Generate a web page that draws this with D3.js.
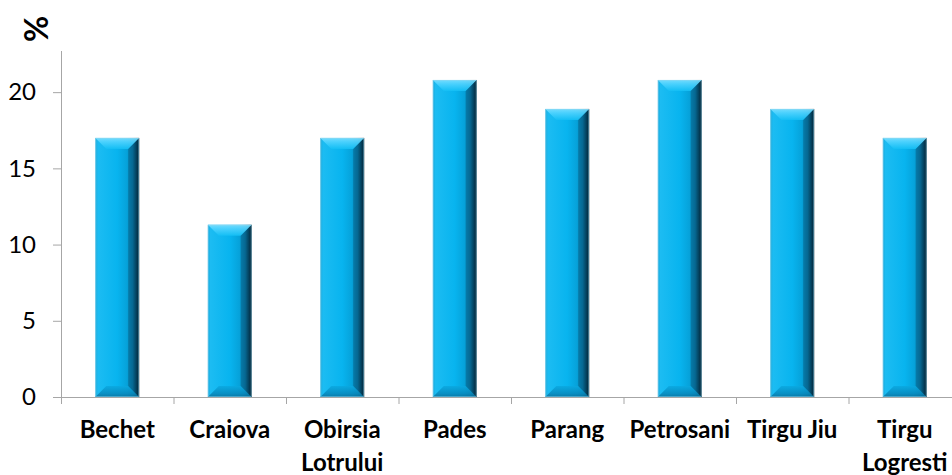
<!DOCTYPE html>
<html><head><meta charset="utf-8">
<script src="https://cdn.jsdelivr.net/npm/d3@7"></script>
<style>html,body{margin:0;padding:0;background:#fff;overflow:hidden}</style>
</head><body>
<svg id="c" width="952" height="475"></svg>
<script>
const categories = [["Bechet"],["Craiova"],["Obirsia","Lotrului"],["Pades"],["Parang"],["Petrosani"],["Tirgu Jiu"],["Tirgu","Logresti"]];
const values = [17.0, 11.3, 17.0, 20.8, 18.9, 20.8, 18.9, 17.0];
const yTicks = [0, 5, 10, 15, 20];
const yLabel = "%";

const svg = d3.select("#c");
const font = "Lato, 'Open Sans', sans-serif";
const x0 = 61, x1 = 961, yBase = 397, yTop = 51;
const keys = categories.map((c,i)=>i);
const x = d3.scaleBand().domain(keys).range([x0, x1]).paddingInner(0.61).paddingOuter(0.305);
const y = d3.scaleLinear().domain([0, 22.7]).range([yBase, yTop]);

const defs = svg.append("defs");
const gH = defs.append("linearGradient").attr("id","gh").attr("x1","0").attr("x2","1").attr("y1","0").attr("y2","0");
[[0,"#1aa6d8"],[0.06,"#1cbcf2"],[0.5,"#08b4ef"],[0.72,"#06a2da"],[0.85,"#067fb0"],[0.94,"#04435f"],[1,"#021a26"]].forEach(s=>gH.append("stop").attr("offset",s[0]).attr("stop-color",s[1]));
const gT = defs.append("linearGradient").attr("id","gt").attr("x1","0").attr("x2","0").attr("y1","0").attr("y2","1");
[[0,"#7fe0ff"],[0.35,"#52d4ff"],[1,"#14bff5"]].forEach(s=>gT.append("stop").attr("offset",s[0]).attr("stop-color",s[1]));
const gB = defs.append("linearGradient").attr("id","gb").attr("x1","0").attr("x2","0").attr("y1","0").attr("y2","1");
[[0,"#0aa8e0"],[0.7,"#0888bb"],[1,"#0a6f9a"]].forEach(s=>gB.append("stop").attr("offset",s[0]).attr("stop-color",s[1]));

const bv = 11;
const bars = svg.append("g").selectAll("g").data(values).join("g");
bars.each(function(v,i){
  const g = d3.select(this);
  const bx = x(i), bw = x.bandwidth(), by = y(v), bb = y(0);
  g.append("rect").attr("x",bx).attr("y",by).attr("width",bw).attr("height",bb-by).attr("fill","url(#gh)");
  g.append("path").attr("d",`M${bx},${by}L${bx+bw},${by}L${bx+bw-bv},${by+bv}L${bx+bv},${by+bv}Z`).attr("fill","url(#gt)").attr("opacity",0.9);
  g.append("path").attr("d",`M${bx},${bb}L${bx+bw},${bb}L${bx+bw-bv},${bb-bv}L${bx+bv},${bb-bv}Z`).attr("fill","url(#gb)").attr("opacity",0.85);
  g.append("path").attr("d",`M${bx+bw},${by}L${bx+bw},${bb}L${bx+bw-bv},${bb-bv}L${bx+bw-bv},${by+bv}Z`).attr("fill","#05364e").attr("opacity",0.3);
  g.append("rect").attr("x",bx+0.5).attr("y",by+0.5).attr("width",bw-1).attr("height",bb-by-1).attr("fill","none").attr("stroke","#8fd6ee").attr("stroke-width",0.8).attr("opacity",0.6);
});

const axColor = "#a6a6a6";
// y axis
const ya = svg.append("g").attr("transform",`translate(${x0},0)`)
  .call(d3.axisLeft(y).tickValues(yTicks).tickSize(8).tickPadding(17).tickFormat(d3.format("d")));
ya.select(".domain").attr("stroke",axColor).attr("d",`M0.5,${yTop}V${yBase}`);
ya.selectAll(".tick line").attr("stroke",axColor);
ya.selectAll(".tick text").attr("font-family",font).attr("font-size",24).attr("fill","#000");

// x axis
const xa = svg.append("g");
xa.append("line").attr("x1",x0).attr("x2",x1).attr("y1",yBase+0.5).attr("y2",yBase+0.5).attr("stroke",axColor);
const bounds = keys.map(i=>x(i)-x.step()*x.paddingInner()/2).concat([x1]);
xa.selectAll("line.t").data(bounds).join("line").attr("class","t")
  .attr("x1",d=>d+0.5).attr("x2",d=>d+0.5).attr("y1",yBase).attr("y2",yBase+7).attr("stroke",axColor);
const lab = xa.selectAll("text").data(categories).join("text")
  .attr("text-anchor","middle").attr("font-family",font).attr("font-weight","bold").attr("font-size",24).attr("fill","#000");
lab.each(function(c,i){
  const t = d3.select(this);
  c.forEach((line,j)=>t.append("tspan").attr("x",x(i)+x.bandwidth()/2).attr("y",438+j*33).text(line));
});

svg.append("text").attr("transform","translate(48,29) rotate(-90)").attr("text-anchor","middle")
  .attr("font-family",font).attr("font-weight","bold").attr("font-size",32).attr("fill","#000").text(yLabel);
</script>
</body></html>
